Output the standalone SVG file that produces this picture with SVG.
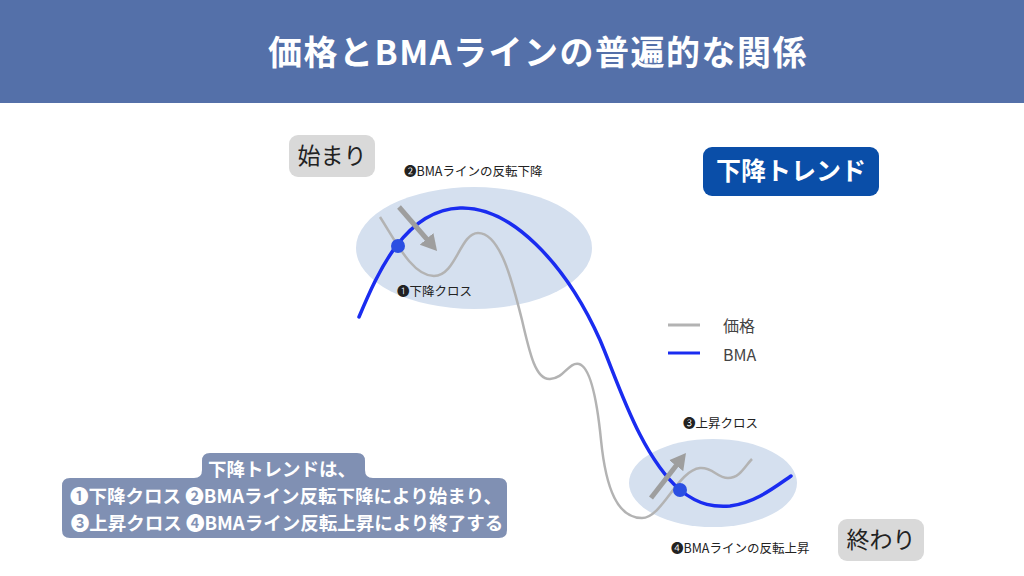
<svg xmlns="http://www.w3.org/2000/svg" width="1024" height="576" viewBox="0 0 1024 576">
<defs>
<style>
text{font-family:"Noto Sans CJK JP","Noto Sans",sans-serif}
.lbl{font-size:12.5px;fill:#222}
.tag{fill:#d9d9d9}
.tagt{font-size:23px;fill:#222}
.cw{font-size:18.5px;font-weight:700;fill:#fff}
.arr{stroke:#9e9e9e;stroke-width:5;fill:none}
.ell{fill:#d5e0ef}
.dot{fill:#2b4fe2}
</style>
<marker id="ah" markerUnits="userSpaceOnUse" markerWidth="18" markerHeight="20" viewBox="0 0 18 20" refX="4" refY="10" orient="auto">
<path d="M0,1 L16,10 L0,19 z" fill="#9e9e9e"/>
</marker>
</defs>
<rect width="1024" height="576" fill="#fff"/>
<g id="header">
<rect x="0" y="0" width="1024" height="103" fill="#5470a9"/>
<text x="538" y="65" text-anchor="middle" font-size="34" font-weight="700" letter-spacing="1.5" fill="#fff">価格とBMAラインの普遍的な関係</text>
</g>
<g id="highlights">
<ellipse class="ell" cx="474" cy="248" rx="118" ry="61"/>
<ellipse class="ell" cx="713" cy="483" rx="84" ry="44"/>
</g>
<g id="connectors">
<path id="price" d="M380,217 C395,240 412,276 434,276 C456,276 460,233 478,233 C500,233 512,280 522,320 C530,355 536,380 550,379 C565,378 568,362 579,364 C590,367 597,400 601,440 C606,490 618,518 642,518 C662,518 678,470 700,468 C713,467 717,478 728,478 C740,478 745,466 752,459" fill="none" stroke="#b3b3b3" stroke-width="2.5"/>
<path id="bma" d="M359,317 C378,272 405,210 460,208 C510,206 565,262 600,340 C618,382 640,455 680,490 C700,506 715,507 730,506 C755,503 775,487 791,476" fill="none" stroke="#1a2cf0" stroke-width="3.5" stroke-linecap="round"/>
<line class="arr" x1="399" y1="207" x2="429.2" y2="241.9" marker-end="url(#ah)"/>
<line class="arr" x1="651" y1="498" x2="678.6" y2="462.5" marker-end="url(#ah)"/>
</g>
<g id="cross-points">
<circle class="dot" cx="398" cy="246" r="7"/>
<circle class="dot" cx="680" cy="490" r="7"/>
</g>
<g id="start">
<rect class="tag" x="289" y="135" width="86" height="42" rx="9"/>
<text class="tagt" x="332" y="164" text-anchor="middle">始まり</text>
</g>
<g id="end">
<rect class="tag" x="838" y="519" width="86" height="42" rx="9"/>
<text class="tagt" x="881" y="548" text-anchor="middle">終わり</text>
</g>
<g id="trend">
<rect x="703" y="147" width="176" height="49" rx="9" fill="#0a4ea8"/>
<text x="791" y="180" text-anchor="middle" font-size="25" font-weight="700" fill="#fff">下降トレンド</text>
</g>
<g id="labels">
<text class="lbl" x="404" y="176">❷BMAラインの反転下降</text>
<text class="lbl" x="397" y="296">❶下降クロス</text>
<text class="lbl" x="683" y="428">❸上昇クロス</text>
<text class="lbl" x="671" y="553">❹BMAラインの反転上昇</text>
</g>
<g id="legend">
<line x1="668" y1="325" x2="700" y2="325" stroke="#b3b3b3" stroke-width="3"/>
<text x="723" y="332" font-size="16" fill="#444">価格</text>
<line x1="668" y1="353" x2="700" y2="353" stroke="#1a2cf0" stroke-width="3"/>
<text x="723" y="361" font-size="16" fill="#444">BMA</text>
</g>
<g id="summary">
<path d="M62,486 Q62,478 70,478 L194,478 Q202,478 202,470 L202,461 Q202,453 210,453 L357,453 Q365,453 365,461 L365,470 Q365,478 373,478 L499,478 Q507,478 507,486 L507,530 Q507,538 499,538 L70,538 Q62,538 62,530 Z" fill="#8090b3"/>
<text class="cw" x="282" y="476" text-anchor="middle">下降トレンドは、</text>
<text class="cw" x="286" y="503" text-anchor="middle">❶下降クロス ❷BMAライン反転下降により始まり、</text>
<text class="cw" x="287" y="530" text-anchor="middle">❸上昇クロス ❹BMAライン反転上昇により終了する</text>
</g>
</svg>
